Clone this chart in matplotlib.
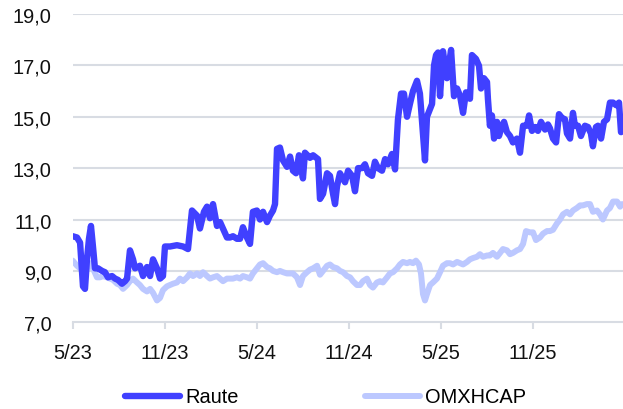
import numpy as np
import matplotlib
matplotlib.use('Agg')
import matplotlib.pyplot as plt
from matplotlib.ticker import FuncFormatter

# months since 5/2023
raute_months = [0.0, 0.28, 0.48, 0.67, 0.80, 0.93, 1.06, 1.19, 1.32, 1.45, 1.65, 1.91, 2.10, 2.30, 2.56,
                2.76, 2.95, 3.21, 3.41, 3.54, 3.73, 3.93, 4.06, 4.38, 4.58, 4.84, 5.04, 5.23, 5.49, 5.69,
                5.88, 6.01, 6.34, 6.79, 7.19, 7.51, 7.77, 8.10, 8.29, 8.55, 8.75, 8.94, 9.14, 9.40, 9.60,
                9.86, 10.05, 10.25, 10.44, 10.70, 10.90, 11.09, 11.35, 11.55, 11.74, 12.00, 12.20, 12.40,
                12.66, 12.85, 13.05, 13.18, 13.31, 13.50, 13.70, 13.96, 14.16, 14.35, 14.55, 14.74, 15.00,
                15.13, 15.46, 15.66, 15.98, 16.11, 16.31, 16.57, 16.76, 16.96, 17.09, 17.22, 17.41, 17.74,
                17.94, 18.20, 18.39, 18.59, 18.85, 19.04, 19.24, 19.50, 19.69, 19.89, 20.15, 20.35, 20.54,
                20.80, 21.00, 21.19, 21.39, 21.58, 21.78, 21.97, 22.17, 22.43, 22.62, 22.76, 22.95, 23.08,
                23.28, 23.41, 23.54, 23.67, 23.80, 23.93, 24.12, 24.38, 24.65, 24.84, 25.04, 25.24, 25.43,
                25.62, 25.88, 26.01, 26.27, 26.47, 26.60, 26.79, 26.99, 27.05, 27.18, 27.31, 27.45, 27.64,
                27.77, 27.97, 28.10, 28.29, 28.49, 28.68, 28.94, 29.14, 29.34, 29.60, 29.73, 29.92, 30.12,
                30.31, 30.51, 30.77, 30.96, 31.09, 31.29, 31.49, 31.68, 31.88, 32.07, 32.20, 32.40, 32.59,
                32.72, 32.92, 33.11, 33.37, 33.57, 33.76, 33.89, 34.09, 34.22, 34.42, 34.61, 34.81, 35.00,
                35.20, 35.40, 35.59, 35.72]
raute = [10.35, 10.3, 10.1, 8.4, 8.3, 9.45, 10.25, 10.75, 9.95, 9.1, 9.1, 9.0, 8.95, 8.75, 8.8,
         8.7, 8.65, 8.5, 8.6, 8.7, 9.8, 9.45, 9.1, 9.2, 8.8, 9.15, 8.8, 9.45, 9.1, 8.7,
         8.8, 9.95, 9.95, 10.0, 9.95, 9.85, 11.35, 11.15, 10.65, 11.3, 11.5, 11.05, 11.6, 10.75, 10.9,
         10.55, 10.3, 10.3, 10.35, 10.25, 10.25, 10.7, 10.3, 10.05, 11.3, 11.35, 11.0, 11.3,
         10.9, 11.15, 11.35, 11.6, 13.75, 13.8, 13.3, 13.05, 13.45, 12.9, 12.8, 13.5, 12.6,
         13.6, 13.4, 13.5, 13.35, 11.8, 12.0, 12.8, 12.7, 12.0, 11.6, 12.3, 12.8, 12.45,
         12.9, 12.7, 12.1, 13.0, 13.0, 13.15, 12.8, 12.7, 13.25, 13.0, 12.9, 13.35, 13.15,
         13.55, 12.95, 14.9, 15.9, 15.9, 15.0, 15.5, 16.0, 16.4, 15.9, 14.8, 13.3, 15.0,
         15.3, 15.5, 17.0, 17.4, 17.5, 15.8, 17.55, 16.5, 17.6, 15.8, 16.1, 15.8, 15.15,
         15.95, 15.7, 17.4, 17.25, 16.98, 16.1, 16.5, 16.35, 15.7, 14.65, 15.05, 14.15, 14.8,
         14.25, 14.65, 14.8, 14.4, 14.25, 14.0, 14.15, 13.6, 14.65, 14.65, 15.05, 14.45, 14.6,
         14.45, 14.8, 14.5, 14.7, 14.55, 14.15, 14.0, 15.1, 14.95, 14.9, 14.35, 14.15, 15.15,
         14.65, 14.65, 14.25, 14.65, 14.6, 14.35, 13.85, 14.6, 14.65, 14.15, 14.8, 14.9, 15.55,
         15.55, 15.45, 15.55, 14.4]

omx_months = [0.0, 0.28, 0.48, 0.67, 0.93, 1.13, 1.32, 1.58, 1.78, 1.97, 2.23, 2.43, 2.63, 2.89, 3.08,
              3.28, 3.54, 3.73, 3.93, 4.19, 4.38, 4.58, 4.84, 5.04, 5.23, 5.49, 5.69, 5.88, 6.14, 6.34,
              6.53, 6.79, 6.99, 7.19, 7.45, 7.64, 7.84, 8.10, 8.29, 8.49, 8.75, 8.94, 9.14, 9.40, 9.60,
              9.79, 10.05, 10.25, 10.44, 10.70, 10.90, 11.09, 11.35, 11.55, 11.74, 12.00, 12.20, 12.40,
              12.66, 12.85, 13.05, 13.31, 13.50, 13.70, 13.96, 14.16, 14.35, 14.61, 14.81, 15.00, 15.26,
              15.46, 15.66, 15.92, 16.11, 16.31, 16.57, 16.76, 16.96, 17.22, 17.41, 17.61, 17.87, 18.07,
              18.26, 18.52, 18.72, 18.91, 19.17, 19.37, 19.56, 19.82, 20.02, 20.21, 20.48, 20.67, 20.87,
              21.13, 21.32, 21.52, 21.78, 21.97, 22.17, 22.36, 22.56, 22.69, 22.82, 22.95, 23.08, 23.28,
              23.47, 23.73, 23.93, 24.12, 24.38, 24.58, 24.78, 25.04, 25.24, 25.43, 25.69, 25.88, 26.08,
              26.34, 26.53, 26.73, 26.99, 27.18, 27.38, 27.64, 27.84, 28.03, 28.29, 28.49, 28.68, 28.94,
              29.14, 29.34, 29.53, 29.79, 29.99, 30.18, 30.44, 30.64, 30.90, 31.09, 31.29, 31.55, 31.75,
              31.94, 32.20, 32.40, 32.59, 32.85, 33.05, 33.24, 33.50, 33.70, 33.89, 34.16, 34.35, 34.54,
              34.81, 35.00, 35.20, 35.46, 35.66, 35.79]
omx = [9.4, 9.2, 9.1, 8.95, 9.1, 9.3, 9.1, 8.75, 8.75, 8.8, 8.75, 8.7, 8.65, 8.5, 8.45,
       8.3, 8.45, 8.6, 8.7, 8.55, 8.45, 8.3, 8.2, 8.3, 8.15, 7.85, 7.95, 8.25, 8.4, 8.45,
       8.5, 8.55, 8.7, 8.6, 8.75, 8.9, 8.8, 8.9, 8.8, 8.95, 8.8, 8.7, 8.75, 8.8, 8.7,
       8.6, 8.7, 8.7, 8.7, 8.75, 8.7, 8.8, 8.75, 8.7, 8.9, 9.1, 9.25, 9.3,
       9.15, 9.1, 9.0, 8.95, 9.0, 8.95, 8.9, 8.9, 8.9, 8.75, 8.45, 8.8, 8.95,
       9.05, 9.1, 9.2, 8.85, 9.0, 9.2, 9.25, 9.15, 9.1, 9.0, 8.95, 8.8, 8.75,
       8.6, 8.45, 8.45, 8.6, 8.7, 8.45, 8.35, 8.55, 8.6, 8.55, 8.75, 8.9, 8.95,
       9.1, 9.25, 9.35, 9.3, 9.35, 9.3, 9.4, 9.25, 8.9, 8.1, 7.85, 8.1, 8.45,
       8.55, 8.7, 8.95, 9.2, 9.3, 9.3, 9.25, 9.35, 9.3, 9.25, 9.35, 9.45, 9.5,
       9.55, 9.65, 9.55, 9.6, 9.6, 9.7, 9.55, 9.7, 9.85, 9.8, 9.65, 9.7, 9.8,
       9.85, 10.05, 10.55, 10.5, 10.5, 10.2, 10.3, 10.45, 10.55, 10.55, 10.6, 10.85, 11.0,
       11.2, 11.3, 11.2, 11.35, 11.45, 11.55, 11.55, 11.6, 11.6, 11.3, 11.35, 11.2, 11.0,
       11.35, 11.45, 11.7, 11.7, 11.5, 11.6]

tick_pos = [0, 6, 12, 18, 24, 30]
tick_labels = ['5/23', '11/23', '5/24', '11/24', '5/25', '11/25']
y_ticks = [7, 9, 11, 13, 15, 17, 19]

plt.rcParams['font.family'] = ['Liberation Sans', 'DejaVu Sans']
grid_col = '#D8DCE3'

fig = plt.figure(figsize=(6.23, 4.10), dpi=100)
ax = fig.add_axes([0.1167, 0.2115, 0.8833, 0.752])

ax.plot(omx_months, omx, color='#BCC8FF', lw=4.3, solid_capstyle='round', solid_joinstyle='round',
        label='OMXHCAP', zorder=3)
ax.plot(raute_months, raute, color='#4040FF', lw=4.6, solid_capstyle='round', solid_joinstyle='round',
        label='Raute', zorder=4)

ax.set_xlim(0, 35.85)
ax.set_ylim(7, 19)
ax.set_yticks(y_ticks)
ax.yaxis.set_major_formatter(FuncFormatter(lambda v, p: f'{v:.1f}'.replace('.', ',')))
ax.set_xticks(tick_pos)
ax.set_xticklabels(tick_labels)

for y in y_ticks[1:]:
    ax.axhline(y, color=grid_col, lw=1.5, zorder=1)

for s in ['top', 'right', 'left']:
    ax.spines[s].set_visible(False)
ax.spines['bottom'].set_color(grid_col)
ax.spines['bottom'].set_linewidth(1.5)

ax.tick_params(axis='y', length=0, pad=15, labelsize=14.4, labelcolor='#111111')
ax.tick_params(axis='x', length=5, width=1.5, color=grid_col, pad=10, labelsize=14.4, labelcolor='#111111')

handles, labels = ax.get_legend_handles_labels()
fig.legend(handles[::-1], labels[::-1], loc='center', bbox_to_anchor=(0.5225, 1 - 398 / 410), ncol=2,
           frameon=False, fontsize=14.4, handlelength=2.75, handletextpad=0.25, columnspacing=6.3)

plt.savefig('out.png', dpi=100)
